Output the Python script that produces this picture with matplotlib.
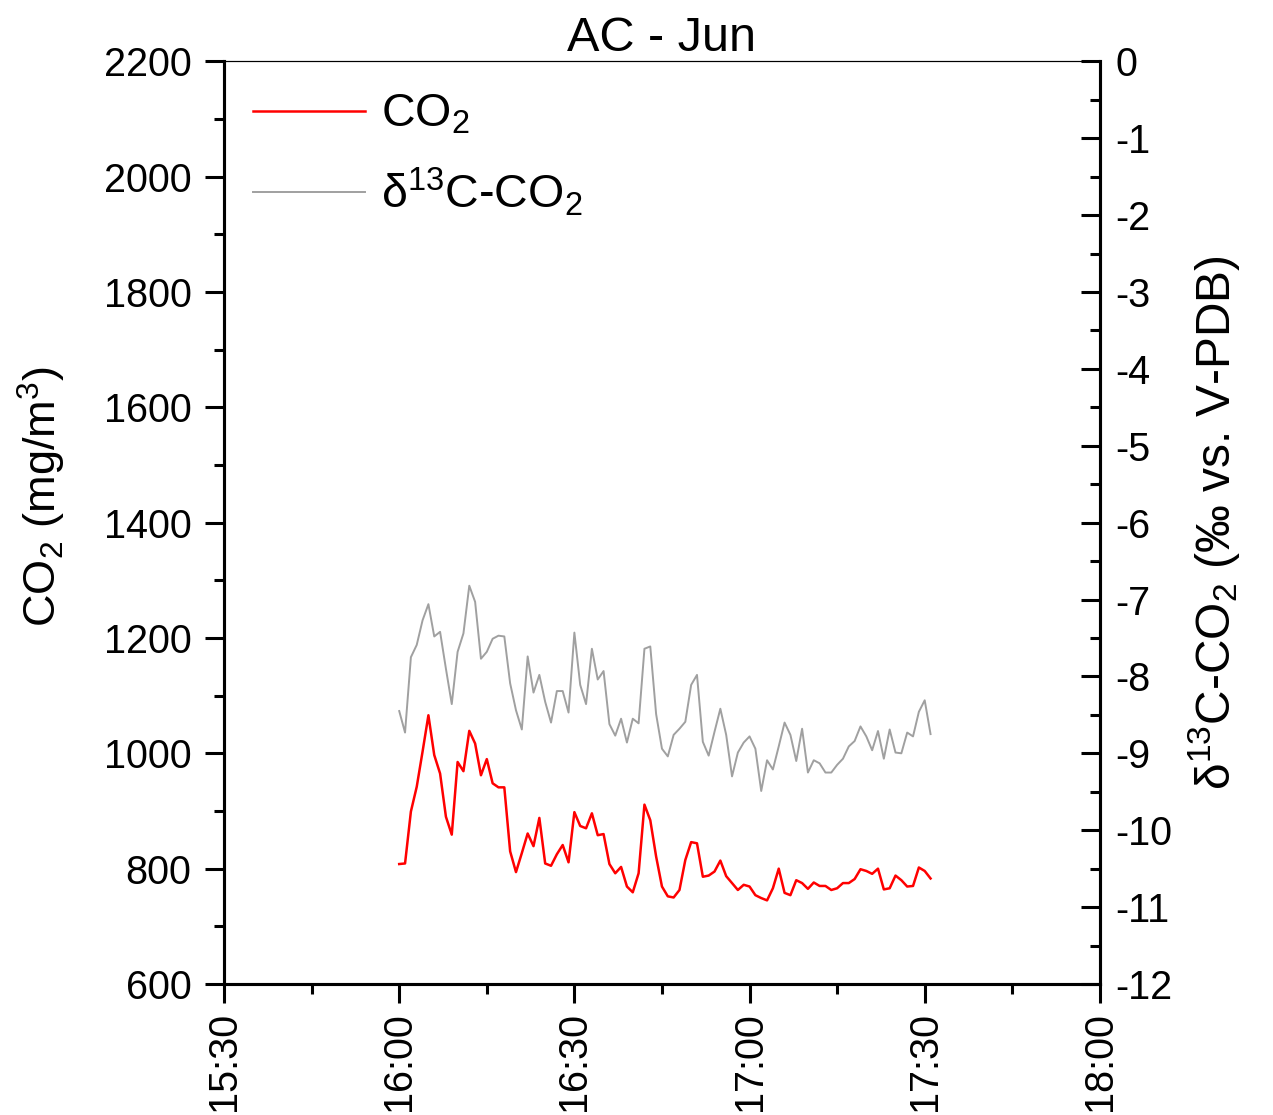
import pandas as pd
import matplotlib
matplotlib.use("Agg")
import matplotlib.pyplot as plt
import matplotlib.dates as mdates
from matplotlib.ticker import MultipleLocator

plt.rcParams["font.family"] = ["Liberation Sans", "DejaVu Sans"]
plt.rcParams["mathtext.fontset"] = "custom"
plt.rcParams["mathtext.rm"] = "Liberation Sans"
plt.rcParams["mathtext.it"] = "Liberation Sans:italic"
plt.rcParams["axes.unicode_minus"] = False

# 1-min readings from 16:00
times = pd.date_range("2020-06-01 16:00", periods=92, freq="1min")

co2 = [808, 809, 899, 942, 1003, 1066, 997, 965, 890, 859,
       985, 969, 1039, 1017, 962, 990, 948, 941, 941, 830,
       794, 827, 861, 839, 888, 809, 805, 825, 841, 811,
       898, 874, 870, 896, 858, 860, 808, 792, 803, 769,
       759, 792, 911, 884, 821, 769, 752, 750, 763, 815,
       846, 844, 786, 788, 795, 814, 787, 775, 763, 772,
       769, 754, 749, 745, 766, 800, 758, 754, 780, 775,
       765, 776, 770, 770, 763, 766, 775, 775, 782, 799,
       796, 791, 800, 764, 766, 788, 780, 769, 770, 802,
       796, 783]

d13c = [-8.45, -8.73, -7.75, -7.59, -7.27, -7.06, -7.48, -7.42, -7.90, -8.36,
        -7.68, -7.44, -6.82, -7.03, -7.77, -7.68, -7.51, -7.47, -7.48, -8.09,
        -8.44, -8.69, -7.74, -8.21, -7.98, -8.33, -8.60, -8.19, -8.19, -8.47,
        -7.43, -8.11, -8.36, -7.64, -8.04, -7.93, -8.62, -8.77, -8.55, -8.86,
        -8.55, -8.61, -7.64, -7.61, -8.49, -8.94, -9.04, -8.76, -8.68, -8.59,
        -8.11, -7.98, -8.85, -9.03, -8.72, -8.42, -8.76, -9.30, -8.99, -8.86,
        -8.78, -8.94, -9.49, -9.09, -9.21, -8.91, -8.60, -8.76, -9.10, -8.68,
        -9.25, -9.09, -9.13, -9.25, -9.25, -9.15, -9.07, -8.91, -8.84, -8.65,
        -8.78, -8.96, -8.71, -9.07, -8.69, -8.99, -9.00, -8.73, -8.78, -8.46,
        -8.31, -8.75]

t_start = pd.Timestamp("2020-06-01 15:30")
t_end = pd.Timestamp("2020-06-01 18:00")

fig = plt.figure(figsize=(12.73, 11.15), dpi=100)
ax = fig.add_axes([0.176, 0.1175, 0.688, 0.8275])
ax2 = ax.twinx()

l1, = ax.plot(times, co2, color="#ff0000", lw=1.8, label="CO$_2$")
l2, = ax2.plot(times, d13c, color="#a0a0a0", lw=1.4, label="δ$^{13}$C-CO$_2$")

ax.set_xlim(t_start, t_end)
ax.set_ylim(600, 2200)
ax2.set_ylim(-12, 0)

ax.xaxis.set_major_locator(mdates.MinuteLocator(byminute=[0, 30]))
ax.xaxis.set_minor_locator(mdates.MinuteLocator(byminute=[15, 45]))
ax.xaxis.set_major_formatter(mdates.DateFormatter("%H:%M"))
ax.yaxis.set_major_locator(MultipleLocator(200))
ax.yaxis.set_minor_locator(MultipleLocator(100))
ax2.yaxis.set_major_locator(MultipleLocator(1))
ax2.yaxis.set_minor_locator(MultipleLocator(0.5))

for a in (ax, ax2):
    for s in ("left", "bottom", "right"):
        a.spines[s].set_linewidth(2.2)
    a.spines["top"].set_linewidth(0.8)

ax.tick_params(axis="both", which="major", direction="out", length=14, width=2.2,
               labelsize=28.5, pad=6)
ax.tick_params(axis="y", which="major", pad=9.5)
ax.tick_params(axis="both", which="minor", direction="out", length=7, width=2.2)
ax.tick_params(axis="x", labelrotation=90)
ax2.tick_params(axis="y", which="major", direction="in", length=14, width=2.2,
                labelsize=28.5, pad=11)
ax2.tick_params(axis="y", which="minor", direction="in", length=7, width=2.2)

ax.set_ylabel("CO$_2$ (mg/m$^3$)", fontsize=32.5)
ax.yaxis.set_label_coords(-0.178, 0.528)
ax2.set_ylabel("δ$^{13}$C-CO$_2$ (‰ vs. V-PDB)", fontsize=34.5, labelpad=10)
ax.set_title("AC - Jun", fontsize=35, pad=-1)

ax2.legend(handles=[l1, l2], loc="upper left", frameon=False, fontsize=33.5,
           handlelength=2.4, handletextpad=0.35, labelspacing=0.62,
           borderaxespad=0.3, bbox_to_anchor=(-0.004, 1.001))

fig.savefig("out.png", dpi=100)
